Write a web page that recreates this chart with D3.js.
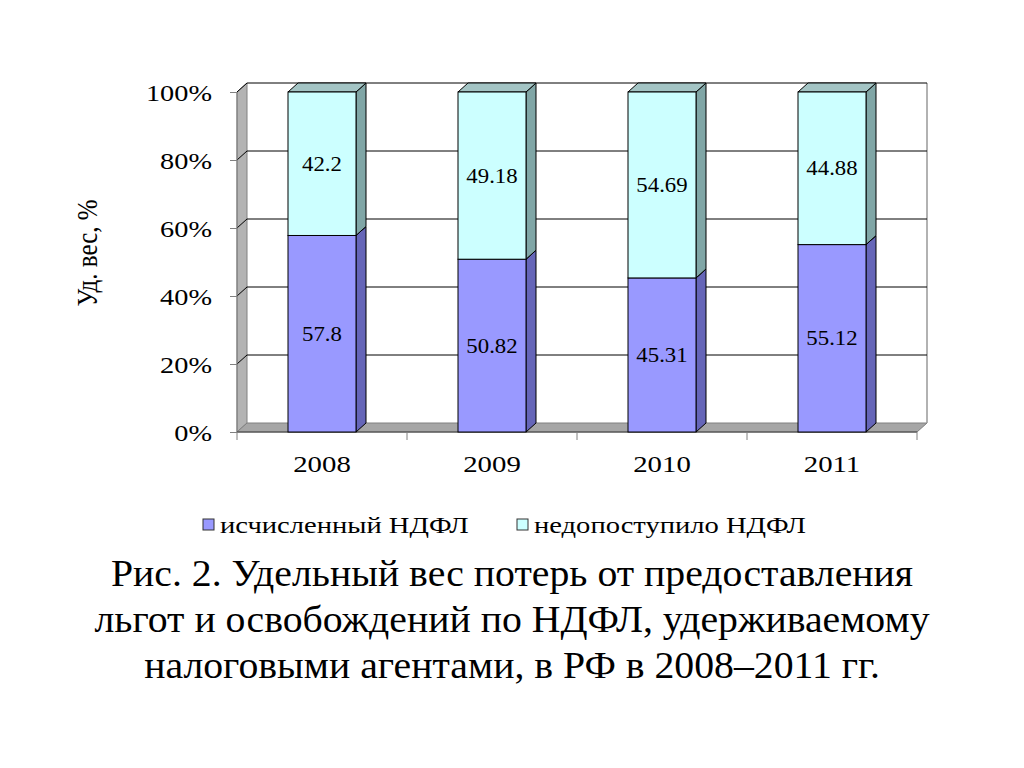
<!DOCTYPE html>
<html><head><meta charset="utf-8">
<script src="https://cdn.jsdelivr.net/npm/d3@7"></script>
<style>
body{margin:0;background:#fff;}
#wrap{position:relative;width:1024px;height:768px;}
#c{position:absolute;left:0;top:0;}
.cap{position:absolute;left:0;width:1024px;text-align:center;font-family:Tinos,"Liberation Serif",FreeSerif,serif;font-size:38px;line-height:46px;white-space:nowrap;transform:scaleX(1.046);transform-origin:512px 0;color:#000;}
.leg{position:absolute;font-family:Tinos,"Liberation Serif",FreeSerif,serif;font-size:24px;line-height:28px;white-space:nowrap;transform:scaleX(1.19);transform-origin:0 0;color:#000;}
</style>
</head><body>
<div id="wrap"><svg id="c" width="1024" height="768"></svg></div>
<script>
const categories = ["2008", "2009", "2010", "2011"];
const calculated = [57.8, 50.82, 45.31, 55.12];
const notReceived = [42.2, 49.18, 54.69, 44.88];
const yTicks = [0, 20, 40, 60, 80, 100];
const seriesNames = ["исчисленный НДФЛ", "недопоступило НДФЛ"];
const captionLines = ["Рис. 2. Удельный вес потерь от предоставления",
  "льгот и освобождений по НДФЛ, удерживаемому",
  "налоговыми агентами, в РФ в 2008–2011 гг."];

const SX = 1.14; // horizontal stretch of the original slide
const FONT = "Tinos, 'Liberation Serif', FreeSerif, serif";
const svg = d3.select("#c");
const wrap = d3.select("#wrap");
const dx = 10, dy = -9;
const x = d3.scaleBand().domain(categories).range([237, 917]).paddingInner(0.6).paddingOuter(0.3);
const y = d3.scaleLinear().domain([0, 100]).range([432, 92]);
const X0 = x.range()[0], X1 = x.range()[1];
const pts = a => a.map(p => p.join(",")).join(" ");

// left side wall
svg.append("polygon").attr("points", pts([[X0, y(0)], [X0, y(100)], [X0 + dx, y(100) + dy], [X0 + dx, y(0) + dy]]))
  .attr("fill", "#b3b3b3").attr("stroke", "#808080").attr("stroke-width", 1);
// floor
svg.append("polygon").attr("points", pts([[X0, y(0)], [X0 + dx, y(0) + dy], [X1 + dx, y(0) + dy], [X1, y(0)]]))
  .attr("fill", "#a6a6a6").attr("stroke", "#808080").attr("stroke-width", 1);
// right wall edge
svg.append("line").attr("x1", X1 + dx).attr("x2", X1 + dx).attr("y1", y(100) + dy).attr("y2", y(0) + dy)
  .attr("stroke", "#999").attr("stroke-width", 1.5);
// gridlines
yTicks.filter(t => t > 0).forEach(t => {
  svg.append("line").attr("x1", X0 + dx).attr("x2", X1 + dx).attr("y1", y(t) + dy).attr("y2", y(t) + dy)
    .attr("stroke", "#000").attr("stroke-width", 1);
  svg.append("line").attr("x1", X0).attr("x2", X0 + dx).attr("y1", y(t)).attr("y2", y(t) + dy)
    .attr("stroke", "#000").attr("stroke-width", 1);
});
// front axis lines
svg.append("line").attr("x1", X0).attr("x2", X0).attr("y1", y(0)).attr("y2", y(100)).attr("stroke", "#808080");
svg.append("line").attr("x1", X0).attr("x2", X1).attr("y1", y(0)).attr("y2", y(0)).attr("stroke", "#404040");

// y axis ticks & labels
const yAxis = d3.axisLeft(y).tickValues(yTicks).tickSize(7).tickFormat(d => d + "%");
const ya = svg.append("g").attr("transform", `translate(${X0},0)`).call(yAxis);
ya.select(".domain").remove();
ya.selectAll("line").attr("stroke", "#808080");
ya.selectAll("text").attr("font-size", 24).attr("fill", "#000").attr("x", -25).attr("dy", "0.35em").attr("data-sx", 1.18);

// x axis labels
const xa = svg.append("g").attr("transform", `translate(0,${y(0)})`)
  .call(d3.axisBottom(x).tickSize(0).tickFormat(d => d));
xa.select(".domain").remove();
xa.selectAll("text").attr("font-size", 24).attr("fill", "#000").attr("y", 32).attr("dy", "0.35em").attr("data-sx", 1.2);
const bnd = [X0].concat(categories.map(c => x(c) - x.step() * x.paddingInner() / 2 + x.step()));
bnd.forEach(b => svg.append("line").attr("x1", b).attr("x2", b).attr("y1", y(0)).attr("y2", y(0) + 8).attr("stroke", "#808080"));

// bars
const segs = [
  { vals: calculated, front: "#9999ff", side: "#6666b8", top: "#8080d0" },
  { vals: notReceived, front: "#ccffff", side: "#80a6a6", top: "#a3c4c4" }
];
categories.forEach((c, i) => {
  let base = 0;
  segs.forEach(s => {
    const v = s.vals[i];
    const x0 = x(c), x1 = x(c) + x.bandwidth();
    const yb = y(base), yt = y(base + v);
    const g = svg.append("g");
    g.append("polygon").attr("points", pts([[x1, yb], [x1 + dx, yb + dy], [x1 + dx, yt + dy], [x1, yt]]))
      .attr("fill", s.side).attr("stroke", "#000").attr("stroke-width", 1);
    g.append("polygon").attr("points", pts([[x0, yt], [x0 + dx, yt + dy], [x1 + dx, yt + dy], [x1, yt]]))
      .attr("fill", s.top).attr("stroke", "#000").attr("stroke-width", 1);
    g.append("rect").attr("x", x0).attr("y", yt).attr("width", x.bandwidth()).attr("height", yb - yt)
      .attr("fill", s.front).attr("stroke", "#000").attr("stroke-width", 1);
    g.append("text").attr("x", x0 + x.bandwidth() / 2).attr("y", (yb + yt) / 2).attr("dy", "0.35em")
      .attr("text-anchor", "middle").attr("font-size", 20).attr("class", "h").attr("data-sx", SX).text(v);
    base += v;
  });
});

// y title (rotated)
svg.append("text").attr("transform", "translate(87,253) rotate(-90) scale(1," + SX + ")").attr("text-anchor", "middle")
  .attr("dy", "0.35em").attr("font-size", 25).text("Уд. вес, %");

// legend (swatches in svg, labels as html)
const legX = [203, 517];
seriesNames.forEach((n, i) => {
  svg.append("rect").attr("x", legX[i]).attr("y", 519).attr("width", 11).attr("height", 11)
    .attr("fill", segs[i].front).attr("stroke", "#333").attr("stroke-width", 1);
  wrap.append("div").attr("class", "leg").style("left", (legX[i] + 17) + "px").style("top", "511px").text(n);
});

// caption (html)
captionLines.forEach((l, i) => {
  wrap.append("div").attr("class", "cap").style("top", (550 + i * 46) + "px").text(l);
});

// fonts + horizontal stretch for horizontal svg texts
svg.selectAll("g").attr("font-family", null);
svg.selectAll("text").style("font-family", FONT);
svg.selectAll("text[data-sx]").each(function () {
  const t = d3.select(this);
  const tx = +t.attr("x") || 0, ty = +t.attr("y") || 0, s = +t.attr("data-sx");
  t.attr("x", 0).attr("y", 0).attr("transform", `translate(${tx},${ty}) scale(${s},1)`);
});
</script>
</body></html>
